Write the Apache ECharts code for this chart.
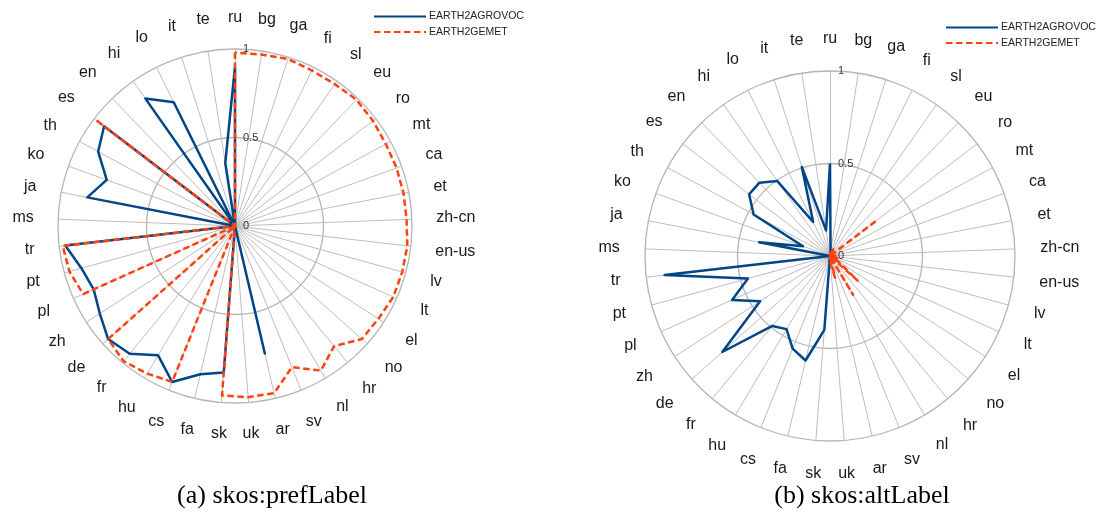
<!DOCTYPE html>
<html>
<head>
<meta charset="utf-8">
<script src="https://cdn.jsdelivr.net/npm/echarts@6/dist/echarts.min.js"></script>
<style>
html, body { margin: 0; padding: 0; background: #fff; }
#chart { width: 1102px; height: 512px; }
</style>
</head>
<body>
<div id="chart"></div>
<script>
// languages, clockwise from the top
var langs = ['ru','bg','ga','fi','sl','eu','ro','mt','ca','et','zh-cn','en-us','lv','lt','el',
  'no','hr','nl','sv','ar','uk','sk','fa','cs','hu','fr','de','zh','pl','pt','tr','ms','ja',
  'ko','th','es','en','hi','lo','it','te'];

// (a) skos:prefLabel
var agrovocPref = [0.90, 0,0,0,0,0,0,0,0,0,0,0,0,0,0,0,0,0,0, 0.74, 0, 0.83, 0.86, 0.95,
  0.85, 0.935, 0.96, 0.91, 0.875, 0.90, 0.965, 0, 0.85, 0.77, 0.88, 0.93, 0, 0.88, 0.78, 0, 0.36];
var gemetPref = [0.98, 0.98, 0.99, 0.98, 0.98, 0.99, 0.98, 0.97, 0.97, 0.97, 0.97, 0.98, 0.98,
  0.98, 0.965, 0.96, 0.88, 0.95, 0.86, 0.97, 0.97, 0.96, 0, 0.95, 0.97, 0.99, 0.96, 0, 0.94,
  0.97, 0.98, 0, 0, 0, 0, 0.99, 0, 0, 0, 0, 0];

// (b) skos:altLabel
var agrovocAlt = [0.5, 0.02, 0,0,0,0,0,0,0,0,0,0,0,0,0,0,0,0,0,0,0, 0.40, 0.58, 0.54, 0.46,
  0.49, 0.78, 0.45, 0.58, 0.46, 0.90, 0, 0.39, 0.155, 0.47, 0.55, 0.55, 0.495, 0.205, 0.505, 0.14];
var gemetAlt = [0.02, 0.03, 0, 0.04, 0, 0, 0.32, 0, 0, 0, 0.03, 0, 0.04, 0, 0.05, 0.20, 0,
  0.245, 0, 0.12, 0.04, 0.02, 0,0,0,0,0,0,0,0,0,0,0,0,0,0,0,0,0,0,0];

var BLUE = '#004586', RED = '#ff420e';
var names = ['EARTH2AGROVOC', 'EARTH2GEMET'];

// echarts lays radar axes out counter-clockwise, so keep the first one and flip the rest
function cw(arr) { return [arr[0]].concat(arr.slice(1).reverse()); }

// measure names so their centres sit just clear of a ring outside the chart
var ctx = document.createElement('canvas').getContext('2d');
ctx.font = '16px "Liberation Sans"';

function indicators(R) {
  var list = cw(langs);
  return list.map(function (n, i) {
    var a = i * 2 * Math.PI / list.length;
    var w = ctx.measureText(n).width;
    var gap = 0.136 * R + w / 2 * Math.abs(Math.sin(a)) + 7 * Math.abs(Math.cos(a));
    var ind = { name: n, min: 0, max: 1, nameGap: gap };
    if (i === 0) {
      ind.axisLabel = { show: true, fontSize: 11, color: '#333', fontFamily: 'Liberation Sans',
        align: 'left', margin: -8 };
    }
    return ind;
  });
}

function radarBox(center, radius) {
  return {
    center: center, radius: radius, startAngle: 90, shape: 'circle', splitNumber: 2,
    indicator: indicators(radius),
    nameGap: 26,
    axisName: { color: '#1a1a1a', fontSize: 16, fontFamily: 'Liberation Sans',
      align: 'center', verticalAlign: 'middle' },
    axisLine: { lineStyle: { color: '#bdbdbd', width: 1 } },
    splitLine: { lineStyle: { color: '#b5b5b5', width: 1.3 } },
    splitArea: { show: false },
    axisTick: { show: false }
  };
}

var blueLine = { color: BLUE, width: 2.5, type: 'solid' };
var redLine = { color: RED, width: 2.5, type: [6.5, 3.5] };

function radarSeries(idx, name, vals, ls) {
  return {
    type: 'radar', radarIndex: idx, name: name, symbol: 'none', silent: true,
    lineStyle: ls, itemStyle: { color: ls.color },
    data: [{ name: name, value: cw(vals) }]
  };
}

function legendAt(left, top) {
  return {
    data: names, orient: 'vertical', left: left, top: top, selectedMode: false,
    itemWidth: 52, itemHeight: 12, itemGap: 4.5,
    itemStyle: { opacity: 0 },
    textStyle: { fontSize: 10.5, color: '#222', fontFamily: 'Liberation Sans', padding: [0, 0, 0, -2] }
  };
}

var capStyle = { fontFamily: 'Liberation Serif', fontWeight: 'normal', fontSize: 26, color: '#000' };

var chart = echarts.init(document.getElementById('chart'));
chart.setOption({
  animation: false,
  title: [
    { text: '(a) skos:prefLabel', left: 267, top: 478, textAlign: 'center', textStyle: capStyle },
    { text: '(b) skos:altLabel', left: 857, top: 478, textAlign: 'center', textStyle: capStyle }
  ],
  legend: [legendAt(368, 6), legendAt(940, 17)],
  // hidden grid only so the legend gets line icons
  grid: { left: 0, top: 0, width: 1, height: 1, show: false },
  xAxis: { type: 'value', show: false },
  yAxis: { type: 'value', show: false },
  radar: [radarBox([235, 226], 177), radarBox([830, 256], 185)],
  series: [
    { type: 'line', name: names[0], data: [], symbol: 'none', lineStyle: blueLine, itemStyle: { color: BLUE } },
    { type: 'line', name: names[1], data: [], symbol: 'none', lineStyle: redLine, itemStyle: { color: RED } },
    radarSeries(0, names[0], agrovocPref, blueLine),
    radarSeries(0, names[1], gemetPref, redLine),
    radarSeries(1, names[0], agrovocAlt, blueLine),
    radarSeries(1, names[1], gemetAlt, redLine)
  ]
});
</script>
</body>
</html>
